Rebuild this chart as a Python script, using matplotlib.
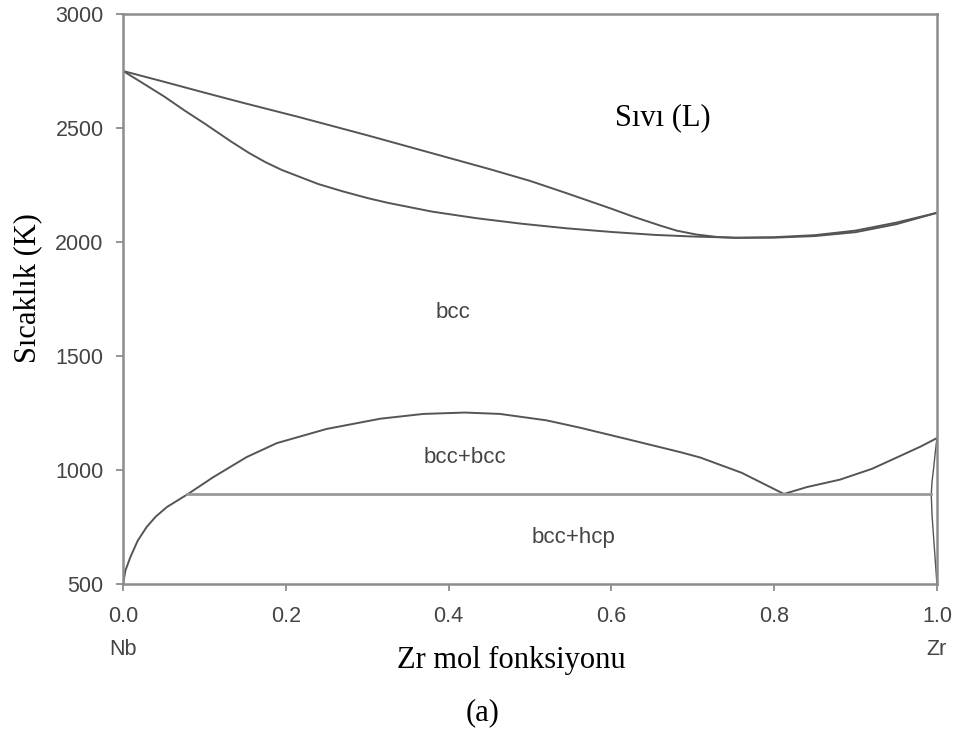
import numpy as np
import matplotlib.pyplot as plt

# Nb-Zr faz diyagrami
liq_x = [0.0, 0.05, 0.1, 0.15, 0.216, 0.3, 0.38, 0.45, 0.5, 0.545, 0.6, 0.627, 0.66, 0.68, 0.704, 0.73, 0.753, 0.8, 0.85, 0.9, 0.95, 1.0]
liq_T = [2750, 2703, 2655, 2608, 2548, 2468, 2389, 2320, 2268, 2214, 2146, 2111, 2072, 2050, 2033, 2022, 2018, 2021, 2030, 2050, 2085, 2128]

sol_x = [0.0, 0.025, 0.051, 0.075, 0.1, 0.133, 0.155, 0.175, 0.195, 0.216, 0.24, 0.27, 0.3, 0.325, 0.38, 0.435, 0.49, 0.545, 0.6, 0.654, 0.7, 0.75, 0.8, 0.85, 0.9, 0.95, 1.0]
sol_T = [2750, 2695, 2637, 2578, 2520, 2440, 2390, 2350, 2316, 2287, 2254, 2222, 2193, 2172, 2133, 2104, 2080, 2060, 2044, 2031, 2024, 2019, 2019, 2026, 2043, 2078, 2128]

# bcc+bcc karisabilirlik boslugu
gap_x = [0.0, 0.003, 0.009, 0.018, 0.029, 0.04, 0.054, 0.079, 0.111, 0.152, 0.189, 0.25, 0.316, 0.369, 0.42,
         0.463, 0.52, 0.561, 0.62, 0.684, 0.709, 0.76, 0.812]
gap_T = [500, 560, 618, 690, 750, 795, 838, 893, 969, 1057, 1118, 1180, 1225, 1246, 1252,
         1246, 1218, 1186, 1135, 1079, 1055, 988, 895]

sag_x = [0.812, 0.84, 0.881, 0.92, 0.955, 0.98, 1.0]
sag_T = [895, 925, 958, 1005, 1062, 1103, 1140]

# Zr tarafi (hcp)
hcp1_x = [1.0, 0.998, 0.996, 0.994, 0.993]
hcp1_T = [1140, 1080, 1010, 950, 893]
hcp2_x = [0.993, 0.994, 0.996, 0.998, 1.0]
hcp2_T = [893, 800, 700, 600, 500]

mono_x = [0.079, 0.993]
mono_T = [893, 893]

xticks = [0.0, 0.2, 0.4, 0.6, 0.8, 1.0]
xlabels = ['0.0', '0.2', '0.4', '0.6', '0.8', '1.0']
yticks = [500, 1000, 1500, 2000, 2500, 3000]

serif = 'Liberation Serif'
sans = 'Liberation Sans'
koyu = '#555555'
gri = '#8c8c8c'
yazi = '#444444'

fig = plt.figure(figsize=(9.59, 7.35), dpi=100)
ax = fig.add_axes([0.1283, 0.2054, 0.977 - 0.1283, 0.981 - 0.2054])

ax.plot(liq_x, liq_T, color=koyu, lw=1.4)
ax.plot(sol_x, sol_T, color=koyu, lw=1.4)
ax.plot(gap_x, gap_T, color=koyu, lw=1.4)
ax.plot(sag_x, sag_T, color=koyu, lw=1.4)
ax.plot(hcp1_x, hcp1_T, color=koyu, lw=1.0)
ax.plot(hcp2_x, hcp2_T, color=koyu, lw=1.0)
ax.plot(mono_x, mono_T, color='#999999', lw=2.0)

ax.set_xlim(0, 1)
ax.set_ylim(500, 3000)
ax.set_xticks(xticks)
ax.set_xticklabels(xlabels)
ax.set_yticks(yticks)
for s in ax.spines.values():
    s.set_color(gri)
    s.set_linewidth(1.8)
ax.tick_params(direction='out', length=5, width=1.3, color=gri, labelcolor=yazi, labelsize=15.5)
ax.tick_params(axis='x', pad=11)
ax.tick_params(axis='y', pad=9)
for lab in ax.get_xticklabels() + ax.get_yticklabels():
    lab.set_fontfamily(sans)

ax.text(0.0, -0.115, 'Nb', transform=ax.transAxes, ha='center', va='center', fontsize=15.5, color=yazi, family=sans)
ax.text(1.0, -0.115, 'Zr', transform=ax.transAxes, ha='center', va='center', fontsize=15.5, color=yazi, family=sans)

ax.text(0.663, 2544, 'Sıvı (L)', ha='center', va='center', fontsize=22, family=serif, color='black')
ax.text(0.405, 1689, 'bcc', ha='center', va='center', fontsize=16, family=sans, color=yazi)
ax.text(0.42, 1057, 'bcc+bcc', ha='center', va='center', fontsize=16, family=sans, color=yazi)
ax.text(0.553, 706, 'bcc+hcp', ha='center', va='center', fontsize=16, family=sans, color=yazi)

fig.text(511 / 959, 1 - 660 / 735, 'Zr mol fonksiyonu', ha='center', va='center', fontsize=22, family=serif)
fig.text(28 / 959, 1 - 288 / 735, 'Sıcaklık (K)', ha='center', va='center', rotation=90, fontsize=22, family=serif)
fig.text(483 / 959, 1 - 713 / 735, '(a)', ha='center', va='center', fontsize=22, family=serif)

fig.savefig('out.png', dpi=100)
